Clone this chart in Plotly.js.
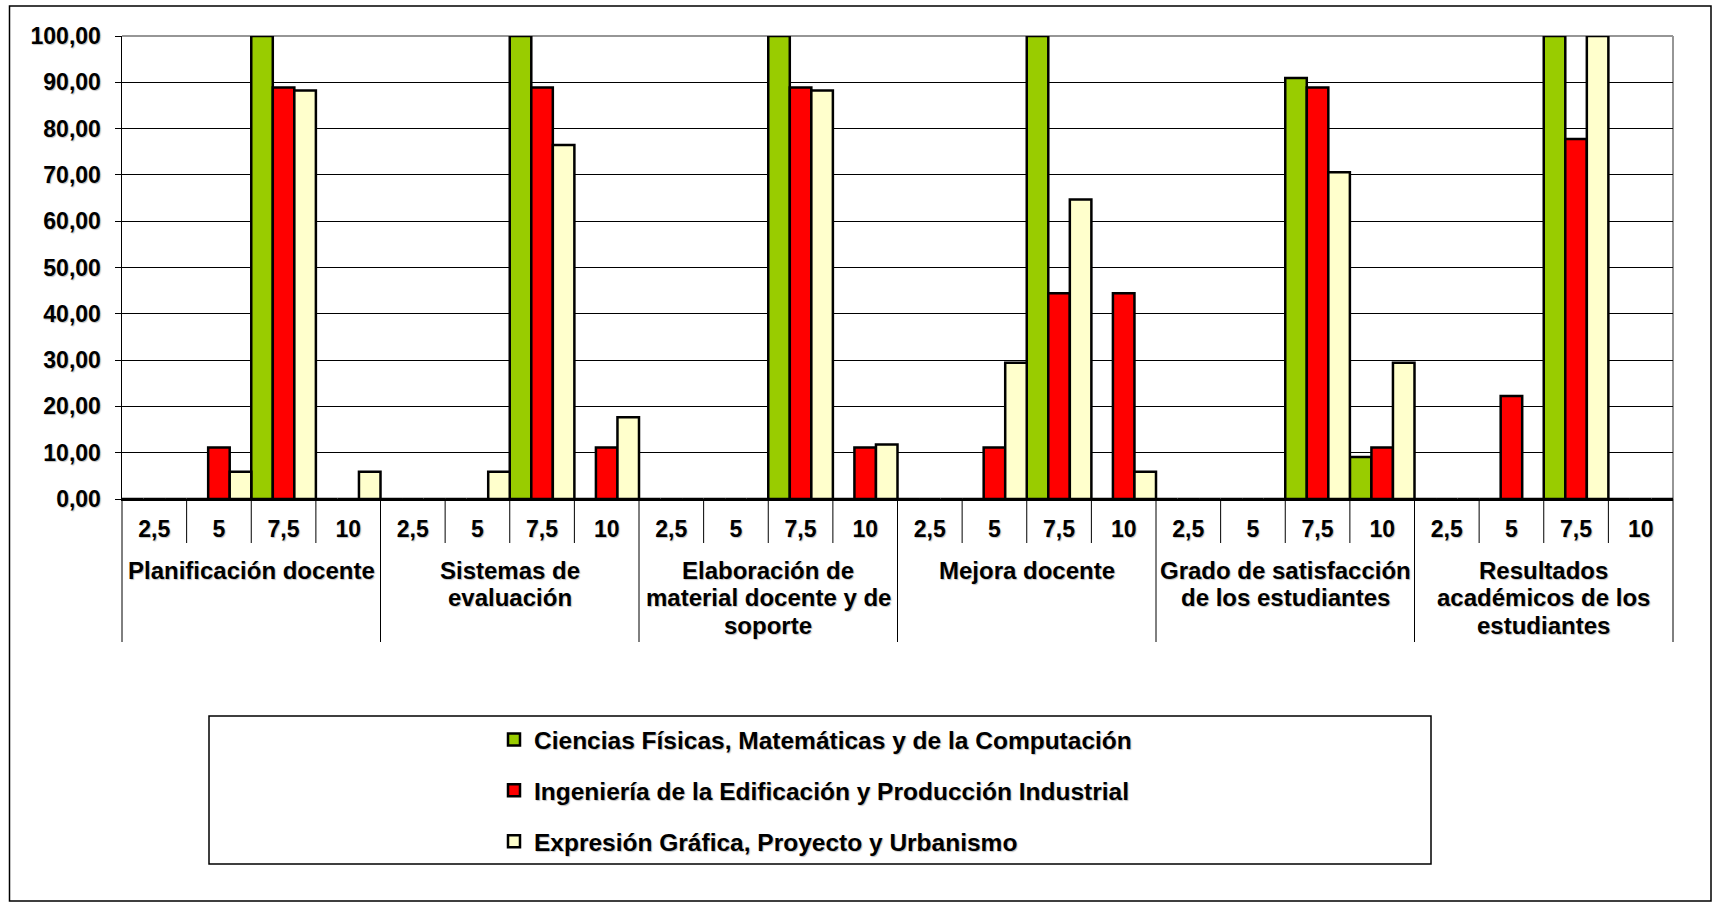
<!DOCTYPE html>
<html>
<head>
<meta charset="utf-8">
<script src="https://cdn.plot.ly/plotly-3.0.1.min.js"></script>
<style>
html,body{margin:0;padding:0;background:#fff;}
#chart{width:1719px;height:904px;}
</style>
</head>
<body>
<div id="chart"></div>
<script>
// ---- DATA ----
const groupLabels = [
  ["Planificación docente"],
  ["Sistemas de", "evaluación"],
  ["Elaboración de", "material docente y de", "soporte"],
  ["Mejora docente"],
  ["Grado de satisfacción", "de los estudiantes"],
  ["Resultados", "académicos de los", "estudiantes"]
];
const scores = ["2,5", "5", "7,5", "10"];
const seriesNames = [
  "Ciencias Físicas, Matemáticas y de la Computación",
  "Ingeniería de la Edificación y Producción Industrial",
  "Expresión Gráfica, Proyecto y Urbanismo"
];
const ciencias = [
  0, 0, 100, 0,
  0, 0, 100, 0,
  0, 0, 100, 0,
  0, 0, 100, 0,
  0, 0, 90.91, 9.09,
  0, 0, 100, 0
];
const ingenieria = [
  0, 11.11, 88.89, 0,
  0, 0, 88.89, 11.11,
  0, 0, 88.89, 11.11,
  0, 11.11, 44.44, 44.44,
  0, 0, 88.89, 11.11,
  0, 22.22, 77.78, 0
];
const expresion = [
  0, 5.88, 88.24, 5.88,
  0, 5.88, 76.47, 17.65,
  0, 0, 88.24, 11.76,
  0, 29.41, 64.71, 5.88,
  0, 0, 70.59, 29.41,
  0, 0, 100, 0
];
const colors = ["#99CC00", "#FF0000", "#FFFFCC"];

// ---- BUILD ----
const nG = groupLabels.length, nS = scores.length, N = nG * nS;
const xIdx = [], tickText = [];
for (let g = 0; g < nG; g++) for (let s = 0; s < nS; s++) { xIdx.push(g * nS + s); tickText.push(scores[s]); }

// plot area in pixels
const L = 122, T = 36, W = 1551, H = 463;
const px2x = p => (p - L) / W;
const px2y = p => (T + H - p) / H;

const FONT = {family: "Liberation Sans, Arial, sans-serif", color: "#000", weight: 700,
              shadow: "1px 1px 1px rgba(0,0,0,0.25)"};

const traces = [ciencias, ingenieria, expresion].map((vals, i) => ({
  type: "bar", x: xIdx, y: vals, name: seriesNames[i], legendgroup: "g" + i,
  marker: {color: colors[i], line: {color: "#000", width: 2.5}},
  hoverinfo: "y+name"
}));

const shapes = [];
// short separators between score categories
for (let i = 1; i < N; i++) {
  if (i % nS === 0) continue;
  shapes.push({type: "line", xref: "paper", yref: "paper", x0: i / N, x1: i / N,
    y0: 0, y1: px2y(543), line: {color: "#000", width: 1}});
}
// long separators between groups
for (let g = 0; g <= nG; g++) {
  const xx = g * nS / N;
  shapes.push({type: "line", xref: "paper", yref: "paper", x0: xx, x1: xx,
    y0: 0, y1: px2y(642), line: {color: "#000", width: 1}});
}
// plot-area border (top and right, gray)
shapes.push({type: "line", xref: "paper", yref: "paper", x0: 0, x1: 1, y0: 1, y1: 1,
  line: {color: "#969696", width: 2}, layer: "between"});
shapes.push({type: "line", xref: "paper", yref: "paper", x0: 1, x1: 1, y0: 0, y1: 1,
  line: {color: "#969696", width: 2}, layer: "between"});
// outer chart border
shapes.push({type: "rect", xref: "paper", yref: "paper",
  x0: px2x(9.5), x1: px2x(1711), y0: px2y(6), y1: px2y(901),
  line: {color: "#000", width: 1.5}});
// legend frame
shapes.push({type: "rect", xref: "paper", yref: "paper",
  x0: px2x(209), x1: px2x(1431), y0: px2y(716), y1: px2y(864),
  line: {color: "#000", width: 1.5}});

// group labels
const annotations = [];
for (let g = 0; g < nG; g++) {
  const cx = (g * nS + nS / 2) / N;
  groupLabels[g].forEach((line, k) => {
    annotations.push({xref: "paper", yref: "paper", x: cx, y: px2y(570 + k * 27.7),
      xanchor: "center", yanchor: "middle", showarrow: false, text: line,
      font: Object.assign({}, FONT, {size: 24})});
  });
}

const layout = {
  width: 1719, height: 904,
  margin: {l: L, r: 1719 - L - W, t: T, b: 904 - T - H, pad: 0},
  paper_bgcolor: "#fff", plot_bgcolor: "#fff",
  separators: ",.",
  barmode: "group", bargap: 0, bargroupgap: 0,
  font: FONT,
  showlegend: true,
  legend: {x: px2x(494), xanchor: "left", y: px2y(717), yanchor: "top",
    bgcolor: "rgba(0,0,0,0)", borderwidth: 0, orientation: "v",
    traceorder: "grouped", tracegroupgap: 16,
    font: Object.assign({}, FONT, {size: 24.5})},
  xaxis: {range: [-0.5, N - 0.5], tickmode: "array", tickvals: xIdx, ticktext: tickText,
    ticks: "", showgrid: false, zeroline: false, showline: true, linecolor: "#000", linewidth: 1.5,
    tickfont: Object.assign({}, FONT, {size: 23}), ticklabelstandoff: 9, fixedrange: true},
  yaxis: {range: [0, 100], tickmode: "array", tickvals: [0,10,20,30,40,50,60,70,80,90,100],
    tickformat: ".2f", ticks: "outside", ticklen: 6, tickcolor: "#000", tickwidth: 1,
    showgrid: true, gridcolor: "#000", gridwidth: 1, zeroline: false,
    showline: true, linecolor: "#000", linewidth: 1.5,
    tickfont: Object.assign({}, FONT, {size: 23}), ticklabelstandoff: 9, fixedrange: true},
  shapes: shapes,
  annotations: annotations
};

Plotly.newPlot("chart", traces, layout, {displayModeBar: false, staticPlot: true});
</script>
</body>
</html>
